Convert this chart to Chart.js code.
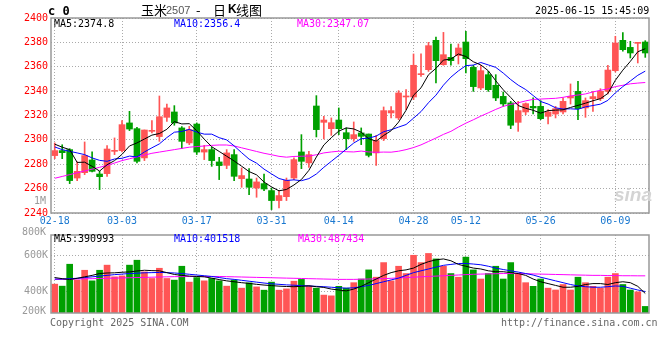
<!DOCTYPE html>
<html>
<head>
<meta charset="utf-8">
<script src="https://cdn.jsdelivr.net/npm/chart.js@4.4.1/dist/chart.umd.min.js"></script>
<style>
  body { margin: 0; background: #fff; width: 660px; height: 360px; position: relative; overflow: hidden; }
  canvas { position: absolute; left: 0; }
  #main { top: 0; }
  #vol { top: 226px; }
  .t { position: absolute; white-space: nowrap; font-family: "DejaVu Sans Mono", monospace; font-size: 10px; line-height: 10px; }
</style>
</head>
<body>
<canvas id="main" width="660" height="230"></canvas>
<canvas id="vol" width="660" height="100"></canvas>

<div class="t" style="left:48px;top:5px;font-size:12px;font-weight:bold;line-height:12px">c 0</div>
<div class="t" style="left:141px;top:3px;font-family:'Noto Sans CJK SC';font-size:13px;line-height:13px">玉米</div>
<div class="t" style="left:166px;top:5px;font-family:'Liberation Sans';font-size:11px;line-height:11px;color:#555">2507</div>
<div class="t" style="left:196px;top:3px;font-family:'Noto Sans CJK SC';font-size:13px;line-height:13px">-</div>
<div class="t" style="left:213px;top:3px;font-family:'Noto Sans CJK SC';font-size:13px;line-height:13px">日</div>
<div class="t" style="left:228px;top:3px;font-family:'Liberation Sans';font-size:12px;line-height:13px;font-weight:bold">K</div>
<div class="t" style="left:236px;top:3px;font-family:'Noto Sans CJK SC';font-size:13px;line-height:13px">线图</div>
<div class="t" style="left:535px;top:6px">2025-06-15 15:45:09</div>

<div class="t" style="left:54px;top:19px;color:#000">MA5:2374.8</div>
<div class="t" style="left:174px;top:19px;color:#0000ff">MA10:2356.4</div>
<div class="t" style="left:297px;top:19px;color:#ff00ff">MA30:2347.07</div>
<div class="t" style="left:34px;top:196px;color:#999">1M</div>
<div class="t" style="left:614px;top:185px;font-family:'Liberation Sans';font-size:19px;line-height:19px;font-weight:bold;font-style:italic;color:#d4d4d4">sina</div>

<div class="t" style="left:54px;top:234px;color:#000">MA5:390993</div>
<div class="t" style="left:174px;top:234px;color:#0000ff">MA10:401518</div>
<div class="t" style="left:298px;top:234px;color:#ff00ff">MA30:487434</div>
<div class="t" style="left:22px;top:227px;color:#999">800K</div>
<div class="t" style="left:22px;top:306px;color:#999">200K</div>

<div class="t" style="left:50px;top:318px;color:#666">Copyright 2025 SINA.COM</div>
<div class="t" style="left:501px;top:318px;color:#666">http://finance.sina.com.cn</div>

<script>
// trading days shown on the chart
var dates = [
  '02-18','02-19','02-20','02-21','02-24','02-25','02-26','02-27','02-28',
  '03-03','03-04','03-05','03-06','03-07','03-10','03-11','03-12','03-13','03-14',
  '03-17','03-18','03-19','03-20','03-21','03-24','03-25','03-26','03-27','03-28',
  '03-31','04-01','04-02','04-03','04-07','04-08','04-09','04-10','04-11',
  '04-14','04-15','04-16','04-17','04-18','04-21','04-22','04-23','04-24','04-25',
  '04-28','04-29','04-30','05-06','05-07','05-08','05-09',
  '05-12','05-13','05-14','05-15','05-16','05-19','05-20','05-21','05-22','05-23',
  '05-26','05-27','05-28','05-29','05-30','06-02','06-03','06-04','06-05','06-06',
  '06-09','06-10','06-11','06-12','06-13'
];
var tickDates = ['02-18','03-03','03-17','03-31','04-14','04-28','05-12','05-26','06-09'];

var open = [2287.1,2291.2,2292.0,2268.7,2273.1,2283.5,2272.0,2272.3,2290.6,2291.2,
  2313.9,2309.2,2285.2,2307.0,2302.7,2318.5,2322.9,2309.8,2297.5,2313.0,
  2290.0,2292.0,2281.9,2279.1,2287.9,2268.2,2267.9,2260.5,2264.1,2258.4,
  2250.2,2253.4,2268.7,2290.1,2281.1,2327.8,2314.4,2309.2,2316.3,2305.9,
  2301.0,2305.7,2304.8,2289.3,2301.0,2322.1,2318.0,2335.2,2335.2,2353.5,
  2357.6,2381.7,2361.7,2367.7,2369.1,2380.3,2359.5,2342.6,2353.5,2344.8,
  2335.7,2330.3,2314.4,2322.9,2327.5,2327.5,2319.3,2321.2,2322.9,2334.4,
  2339.8,2326.2,2333.8,2333.8,2339.8,2356.8,2381.7,2375.9,2379.2,2380.3];
var high = [2297.5,2296.0,2292.8,2281.9,2298.3,2290.1,2274.2,2295.3,2301.6,2315.8,
  2323.4,2310.3,2308.1,2315.8,2336.0,2329.4,2328.1,2310.9,2311.1,2313.9,
  2295.5,2293.9,2285.7,2292.0,2292.0,2277.0,2276.4,2268.7,2272.0,2260.5,
  2258.4,2268.7,2285.2,2304.3,2290.6,2336.3,2319.3,2318.0,2326.2,2309.8,
  2314.7,2309.8,2304.8,2303.7,2327.0,2327.3,2340.4,2341.2,2370.5,2370.5,
  2380.0,2384.4,2388.2,2378.7,2378.7,2389.1,2361.2,2361.2,2356.2,2353.5,
  2339.3,2331.6,2331.6,2330.3,2334.4,2332.2,2324.8,2327.5,2334.4,2345.9,
  2348.0,2334.4,2339.8,2342.0,2361.2,2385.0,2388.0,2380.9,2379.8,2381.4];
var low = [2284.6,2284.6,2264.1,2266.6,2271.5,2273.7,2259.2,2270.1,2287.9,2290.1,
  2307.6,2281.0,2283.0,2305.7,2298.8,2315.2,2312.0,2292.8,2296.1,2288.0,
  2283.8,2278.3,2267.4,2276.4,2266.6,2261.1,2255.0,2252.9,2258.4,2242.8,
  2244.1,2250.2,2267.4,2276.4,2277.5,2302.4,2300.7,2303.7,2304.3,2292.0,
  2298.8,2296.1,2286.0,2279.1,2299.4,2318.0,2316.6,2324.8,2333.0,2352.1,
  2356.2,2346.7,2361.2,2361.2,2362.3,2354.9,2339.8,2341.2,2339.8,2332.2,
  2327.5,2309.2,2307.0,2320.7,2321.2,2316.6,2313.0,2318.0,2321.2,2329.4,
  2316.6,2318.5,2323.4,2332.2,2337.7,2355.7,2372.7,2367.2,2363.1,2367.7];
var close = [2291.2,2289.5,2266.6,2274.2,2287.1,2274.2,2269.8,2292.5,2291.4,2312.5,
  2308.9,2282.4,2308.1,2307.8,2319.0,2326.2,2313.9,2298.8,2308.4,2290.0,
  2292.0,2283.0,2278.9,2289.3,2270.1,2270.7,2261.1,2265.5,2259.7,2250.2,
  2254.3,2266.8,2283.8,2282.4,2287.9,2308.4,2316.3,2314.1,2309.2,2301.0,
  2304.3,2302.9,2287.3,2299.4,2324.0,2324.0,2338.5,2335.7,2361.2,2354.3,
  2377.3,2365.0,2369.9,2365.0,2375.4,2366.6,2343.7,2356.8,2341.2,2334.4,
  2329.5,2312.0,2324.0,2329.7,2326.2,2317.4,2322.9,2325.6,2331.6,2335.7,
  2325.6,2332.2,2335.5,2339.8,2357.3,2379.5,2374.0,2371.3,2379.5,2371.3];

var ma5 = [2296.5,2294.0,2292.0,2281.5,2281.7,2278.3,2274.4,2279.6,2283.0,2288.1,
  2295.0,2297.5,2300.7,2303.9,2305.2,2308.7,2315.0,2313.1,2313.3,2307.5,
  2300.6,2294.4,2290.5,2286.6,2282.7,2278.4,2274.0,2271.3,2265.4,2261.4,
  2258.2,2259.3,2263.0,2267.5,2275.0,2285.9,2295.8,2301.8,2307.2,2309.8,
  2309.0,2306.3,2300.9,2299.0,2303.6,2307.5,2314.6,2324.3,2336.7,2342.7,
  2353.4,2358.7,2365.5,2366.3,2370.5,2368.4,2364.1,2361.5,2356.7,2348.5,
  2341.1,2334.8,2328.2,2325.9,2324.3,2321.9,2324.0,2324.4,2324.7,2326.6,
  2328.3,2330.1,2332.1,2333.8,2338.1,2348.9,2357.2,2364.4,2372.3,2374.8];
var ma10 = [2294.2,2292.0,2290.6,2289.3,2287.9,2285.2,2283.2,2282.4,2284.3,2284.9,
  2286.7,2286.0,2290.1,2293.5,2296.7,2301.9,2306.3,2306.9,2308.6,2306.4,
  2304.7,2304.7,2301.8,2300.0,2295.1,2289.5,2284.2,2280.9,2276.0,2272.1,
  2268.3,2266.7,2267.2,2266.5,2268.2,2272.0,2277.5,2282.4,2287.3,2292.4,
  2297.4,2301.0,2301.4,2303.1,2306.7,2308.3,2310.5,2312.6,2317.8,2323.2,
  2330.5,2336.7,2344.9,2351.5,2356.6,2360.9,2361.4,2363.5,2361.5,2359.5,
  2354.8,2349.5,2344.9,2341.3,2336.4,2331.5,2329.4,2326.3,2325.3,2325.5,
  2325.1,2327.1,2328.2,2329.3,2332.4,2338.6,2343.7,2348.3,2353.0,2356.4];
var ma30 = [2268.5,2270.0,2271.5,2273.0,2274.5,2276.0,2277.5,2279.0,2281.0,2283.0,
  2284.5,2286.0,2287.5,2289.0,2290.0,2291.0,2292.0,2293.0,2294.0,2294.5,
  2295.0,2295.5,2295.8,2295.8,2295.0,2293.5,2292.0,2290.5,2289.0,2287.8,
  2286.5,2285.8,2286.4,2286.6,2286.7,2287.8,2289.3,2290.1,2290.7,2290.3,
  2290.1,2290.8,2290.1,2289.8,2290.0,2289.9,2290.7,2292.0,2293.7,2295.9,
  2298.7,2301.5,2304.5,2307.0,2310.5,2313.7,2316.5,2319.5,2322.2,2325.0,
  2327.5,2329.1,2330.4,2332.0,2333.2,2333.5,2333.8,2334.1,2334.9,2336.1,
  2336.8,2337.7,2339.3,2340.7,2341.8,2343.7,2344.8,2346.0,2346.6,2347.07];

// volume, in thousands of lots
var volume = [442,431,551,464,518,460,518,546,482,487,
  546,573,509,473,529,473,464,540,453,478,
  460,473,460,431,464,420,449,427,409,453,
  409,416,458,468,431,420,382,378,430,420,
  450,470,520,480,560,460,540,500,600,560,
  610,580,540,500,480,590,520,470,500,540,
  470,560,500,450,430,470,420,410,440,410,
  480,450,430,420,480,500,440,410,400,320];
var vma5 = [478,472,467,474,482,490,500,503,504,507,
  509,514,518,516,515,505,495,490,486,484,
  482,475,467,460,455,450,446,441,437,434,
  431,429,428,430,433,428,424,415,410,405,
  415,430,450,470,490,505,515,520,530,550,
  565,575,580,570,550,540,530,525,515,510,
  510,505,500,490,470,455,445,435,425,425,
  430,440,445,445,440,450,455,450,430,391];
var vma10 = [470,470,472,474,478,482,486,490,494,497,
  500,502,504,505,506,505,503,500,496,492,
  488,484,478,472,468,463,458,453,448,444,
  441,438,436,434,432,430,428,425,422,420,
  422,428,435,445,455,465,475,490,505,515,
  525,535,545,550,555,555,552,548,540,530,
  522,515,508,500,492,480,470,460,450,440,
  432,428,425,425,428,432,430,420,410,401.5];
var vma30 = [468,468,469,470,471,472,473,474,475,476,
  477,478,479,480,481,482,483,483,484,484,
  484,484,484,483,482,481,480,479,478,477,
  476,475,474,473,472,471,470,469,468,468,
  468,469,470,471,472,474,476,478,480,482,
  484,486,488,490,492,494,496,497,498,499,
  500,500,500,499,498,497,496,495,494,493,
  492,491,490,490,489,489,488,488,487.5,487.434];

var RED = '#ff5555', GREEN = '#00a000';
var candleColors = close.map(function (c, i) { return c >= open[i] ? RED : GREEN; });
var tickIdx = tickDates.map(function (d) { return dates.indexOf(d); });
var MONO = 'DejaVu Sans Mono';

var frame = {
  id: 'frame',
  afterDraw: function (chart) {
    var a = chart.chartArea, c = chart.ctx;
    c.save();
    c.strokeStyle = '#999';
    c.lineWidth = 1.5;
    c.strokeRect(a.left, a.top, a.right - a.left, a.bottom - a.top);
    c.restore();
  }
};

function xScale(showLabels) {
  return {
    offset: true,
    grid: {
      offset: false, drawTicks: false, lineWidth: 1,
      color: function (ctx) { return tickIdx.indexOf(ctx.index) >= 0 ? '#aaa' : 'rgba(0,0,0,0)'; }
    },
    border: { display: false, dash: [1, 2] },
    ticks: {
      display: showLabels, autoSkip: false, maxRotation: 0, padding: 2,
      color: '#1a78d0', font: { family: MONO, size: 10 },
      callback: function (v, i) { return tickIdx.indexOf(i) >= 0 ? dates[i] : ''; }
    },
    afterFit: function (s) { s.height = showLabels ? 17 : 0; }
  };
}

function maLine(data, color) {
  return { type: 'line', data: data, borderColor: color, borderWidth: 1, pointRadius: 0, tension: 0, order: 0 };
}

new Chart(document.getElementById('main'), {
  type: 'bar',
  data: {
    labels: dates,
    datasets: [
      maLine(ma5, '#000000'),
      maLine(ma10, '#0000ff'),
      maLine(ma30, '#ff00ff'),
      { data: open.map(function (o, i) { return [o, close[i]]; }), backgroundColor: candleColors,
        barThickness: 6, minBarLength: 1, grouped: false, order: 1 },
      { data: low.map(function (l, i) { return [l, high[i]]; }), backgroundColor: candleColors,
        barThickness: 1, grouped: false, order: 2 }
    ]
  },
  options: {
    responsive: false, animation: false,
    layout: { padding: { left: 0, right: 11, top: 18, bottom: 0 } },
    plugins: { legend: { display: false }, tooltip: { enabled: false } },
    scales: {
      x: xScale(true),
      y: {
        min: 2240, max: 2400,
        ticks: { stepSize: 20, color: '#ff0000', padding: 3, font: { family: MONO, size: 10 },
          callback: function (v) { return String(v); } },
        grid: { color: '#aaa', drawTicks: false },
        border: { display: false, dash: [1, 2] },
        afterFit: function (s) { s.width = 51; }
      }
    }
  },
  plugins: [frame]
});

new Chart(document.getElementById('vol'), {
  type: 'bar',
  data: {
    labels: dates,
    datasets: [
      maLine(vma5, '#000000'),
      maLine(vma10, '#0000ff'),
      maLine(vma30, '#ff00ff'),
      { data: volume, backgroundColor: candleColors, barThickness: 6, grouped: false, order: 1 }
    ]
  },
  options: {
    responsive: false, animation: false,
    layout: { padding: { left: 0, right: 11, top: 9, bottom: 13 } },
    plugins: { legend: { display: false }, tooltip: { enabled: false } },
    scales: {
      x: xScale(false),
      y: {
        min: 284, max: 711,
        afterBuildTicks: function (s) { s.ticks = [{ value: 400 }, { value: 600 }]; },
        ticks: { color: '#999', padding: 3, font: { family: MONO, size: 10 },
          callback: function (v) { return v + 'K'; } },
        grid: { color: '#aaa', drawTicks: false },
        border: { display: false, dash: [1, 2] },
        afterFit: function (s) { s.width = 51; }
      }
    }
  },
  plugins: [frame]
});
</script>
</body>
</html>
